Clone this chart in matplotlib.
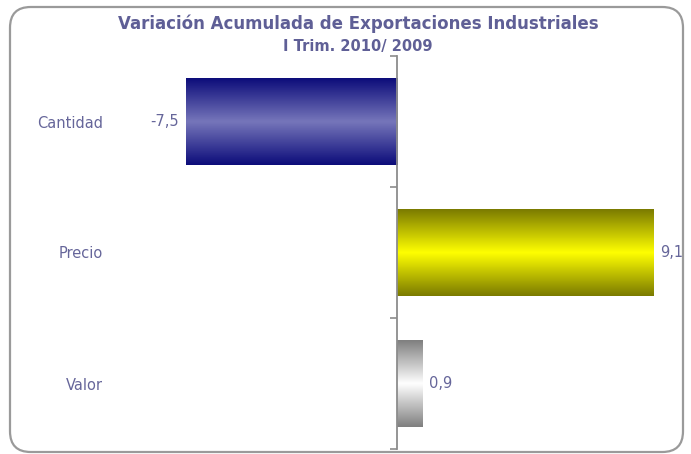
import numpy as np
import matplotlib.pyplot as plt
from matplotlib.patches import FancyBboxPatch
from matplotlib.colors import LinearSegmentedColormap

# Data
categorias = ['Cantidad', 'Precio', 'Valor']
variacion = [-7.5, 9.1, 0.9]
etiquetas = ['-7,5', '9,1', '0,9']

# colour of each bar: edge colour, middle colour (gradient top-bottom)
gradientes = [('#0c0c7a', '#7676ba'), ('#7a7a00', '#ffff00'), ('#7f7f7f', '#ffffff')]
texto = '#66669a'

W, H = 691, 454
fig = plt.figure(figsize=(W / 100, H / 100), dpi=100)

# rounded frame round the whole chart
frame = FancyBboxPatch((10 / W, 2 / H), 673 / W, 445 / H,
                       boxstyle='round,pad=0,rounding_size=0.03',
                       transform=fig.transFigure, fill=False,
                       edgecolor='#9a9a9a', linewidth=1.6, mutation_aspect=W / H)
fig.patches.append(frame)

# axes placed so that zero sits at x=397 px, 28.2 px per unit
x0, xmin, xmax = 397, -9, 10
ppu = 28.2
left = x0 + xmin * ppu
right = x0 + xmax * ppu
top, bottom = 56, 449
ax = fig.add_axes([left / W, (H - bottom) / H, (right - left) / W, (bottom - top) / H])

pos = np.arange(len(categorias))
bars = ax.barh(pos, variacion, height=0.66, color='none', edgecolor='none')

# fill each bar with a vertical gradient
for b, (c_edge, c_mid) in zip(bars, gradientes):
    cmap = LinearSegmentedColormap.from_list('g', [c_edge, c_mid, c_edge])
    grad = np.linspace(0, 1, 256).reshape(-1, 1)
    x, y, w, h = b.get_x(), b.get_y(), b.get_width(), b.get_height()
    ax.imshow(grad, cmap=cmap, aspect='auto', interpolation='bicubic',
              extent=(x, x + w, y + h, y), zorder=2)
ax.set_xlim(xmin, xmax)
ax.set_ylim(len(categorias) - 0.5, -0.5)

ax.bar_label(bars, labels=etiquetas, padding=5, color=texto, fontsize=10.5)

for s in ['top', 'right', 'bottom']:
    ax.spines[s].set_visible(False)
ax.spines['left'].set_position(('data', 0))
ax.spines['left'].set_color('#8c8c8c')
ax.spines['left'].set_linewidth(1.3)
ax.spines['left'].set_zorder(3)
ax.set_xticks([])

# tick marks between categories, labels as minor ticks far to the left
ax.set_yticks(np.arange(-0.5, len(categorias), 1.0))
ax.set_yticklabels([])
ax.tick_params(axis='y', which='major', length=5, width=1.2, color='#8c8c8c')
ax.set_yticks(pos, minor=True)
ax.set_yticklabels(categorias, minor=True)
ax.tick_params(axis='y', which='minor', length=0, pad=(x0 - 103) * 0.72,
               labelcolor=texto, labelsize=10.5)
ax.patch.set_alpha(0)

fig.text(358 / W, 1 - 24 / H, 'Variación Acumulada de Exportaciones Industriales',
         ha='center', va='center', fontsize=12, fontweight='bold', color='#5f5f96')
fig.text(358 / W, 1 - 46 / H, 'I Trim. 2010/ 2009',
         ha='center', va='center', fontsize=10.5, fontweight='bold', color='#5f5f96')

fig.savefig('out.png', dpi=100)
